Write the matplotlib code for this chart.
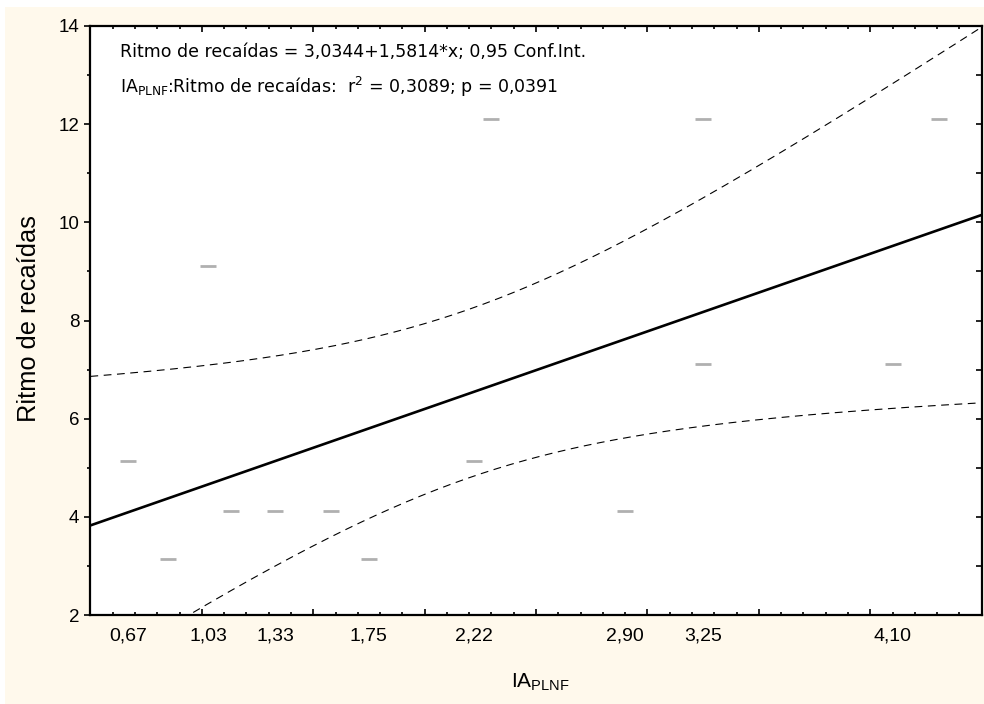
import numpy as np
import matplotlib.pyplot as plt
from matplotlib.patches import Rectangle

# data
ia_plnf = [0.67, 0.85, 1.03, 1.13, 1.33, 1.58, 1.75, 2.22, 2.30, 2.90, 3.25, 3.25, 4.10, 4.31]
ritmo = [5.14, 3.15, 9.11, 4.12, 4.12, 4.12, 3.15, 5.14, 12.11, 4.12, 12.11, 7.12, 7.12, 12.11]
x_tick_labels = [0.67, 1.03, 1.33, 1.75, 2.22, 2.90, 3.25, 4.10]

intercept, slope = 3.0344, 1.5814
t_crit = 2.179  # t(0.975, df=12)

x = np.array(ia_plnf)
y = np.array(ritmo)
n = len(x)
x_mean = x.mean()
sxx = ((x - x_mean) ** 2).sum()
resid = y - (intercept + slope * x)
s = np.sqrt((resid ** 2).sum() / (n - 2))

xs = np.linspace(0.5, 4.5, 300)
fit = intercept + slope * xs
half = t_crit * s * np.sqrt(1 / n + (xs - x_mean) ** 2 / sxx)

plt.rcParams['font.family'] = 'Liberation Sans'
plt.rcParams['mathtext.default'] = 'regular'

cream = '#FFF9EC'
fig = plt.figure(figsize=(9.84, 7.04), dpi=100, facecolor='white')
fig.patches.append(Rectangle((5 / 984, 0), 1, 697 / 704, transform=fig.transFigure,
                             facecolor=cream, edgecolor='none', zorder=-1))
ax = fig.add_axes([90.4 / 984, 1 - 615 / 704, 891.3 / 984, 589 / 704])
ax.set_facecolor('white')

ax.plot(x, y, linestyle='none', marker='_', markersize=12, mew=2.0, color='#b0b0b0')
ax.plot(xs, fit, color='black', lw=1.9)
ax.plot(xs, fit + half, color='black', lw=0.8, dashes=(7, 5))
ax.plot(xs, fit - half, color='black', lw=0.8, dashes=(7, 5))

ax.set_xlim(0.5, 4.5)
ax.set_ylim(2, 14)
for sp in ax.spines.values():
    sp.set_linewidth(1.6)

# x axis: unlabeled ticks inward, labels at data values
ax.set_xticks(np.arange(0.5, 4.51, 0.5))
ax.set_xticks(np.arange(0.5, 4.51, 0.1), minor=True)
ax.tick_params(axis='x', which='both', direction='in', top=True, labelbottom=False)
ax.tick_params(axis='x', which='major', length=4, width=1.2)
ax.tick_params(axis='x', which='minor', length=2, width=1.2)

sec = ax.secondary_xaxis('bottom')
sec.set_xticks(x_tick_labels)
sec.set_xticklabels([f'{v:.2f}'.replace('.', ',') for v in x_tick_labels])
sec.tick_params(length=0, pad=9, labelsize=14)
sec.spines['bottom'].set_visible(False)

# y axis: outward on the left, inward on the right
ax.set_yticks(np.arange(2, 15, 2))
ax.set_yticks(np.arange(2, 15, 1), minor=True)
ax.tick_params(axis='y', which='major', direction='out', length=4, width=1.2, pad=4,
               labelsize=13.5)
ax.tick_params(axis='y', which='minor', direction='out', length=2, width=1.2)

sec_y = ax.secondary_yaxis('right')
sec_y.set_yticks(np.arange(2, 15, 1))
sec_y.tick_params(direction='in', length=4, width=1.2, labelright=False)
sec_y.spines['right'].set_visible(False)

ax.text(0.0332, 0.947, 'Ritmo de recaídas = 3,0344+1,5814*x; 0,95 Conf.Int.',
        transform=ax.transAxes, fontsize=12.5, fontfamily='DejaVu Sans', va='baseline')
ax.text(0.0332, 0.886, 'IA$_{PLNF}$:Ritmo de recaídas:  r$^{2}$ = 0,3089; p = 0,0391',
        transform=ax.transAxes, fontsize=12.5, fontfamily='DejaVu Sans', va='baseline')

fig.text(29 / 984, 1 - 319 / 704, 'Ritmo de recaídas', rotation=90, fontsize=18.3,
         ha='center', va='center')
fig.text(511 / 984, 1 - 688 / 704, 'IA$_{PLNF}$', fontsize=15,
         ha='left', va='baseline')

fig.savefig('out.png', dpi=100, facecolor=fig.get_facecolor())
